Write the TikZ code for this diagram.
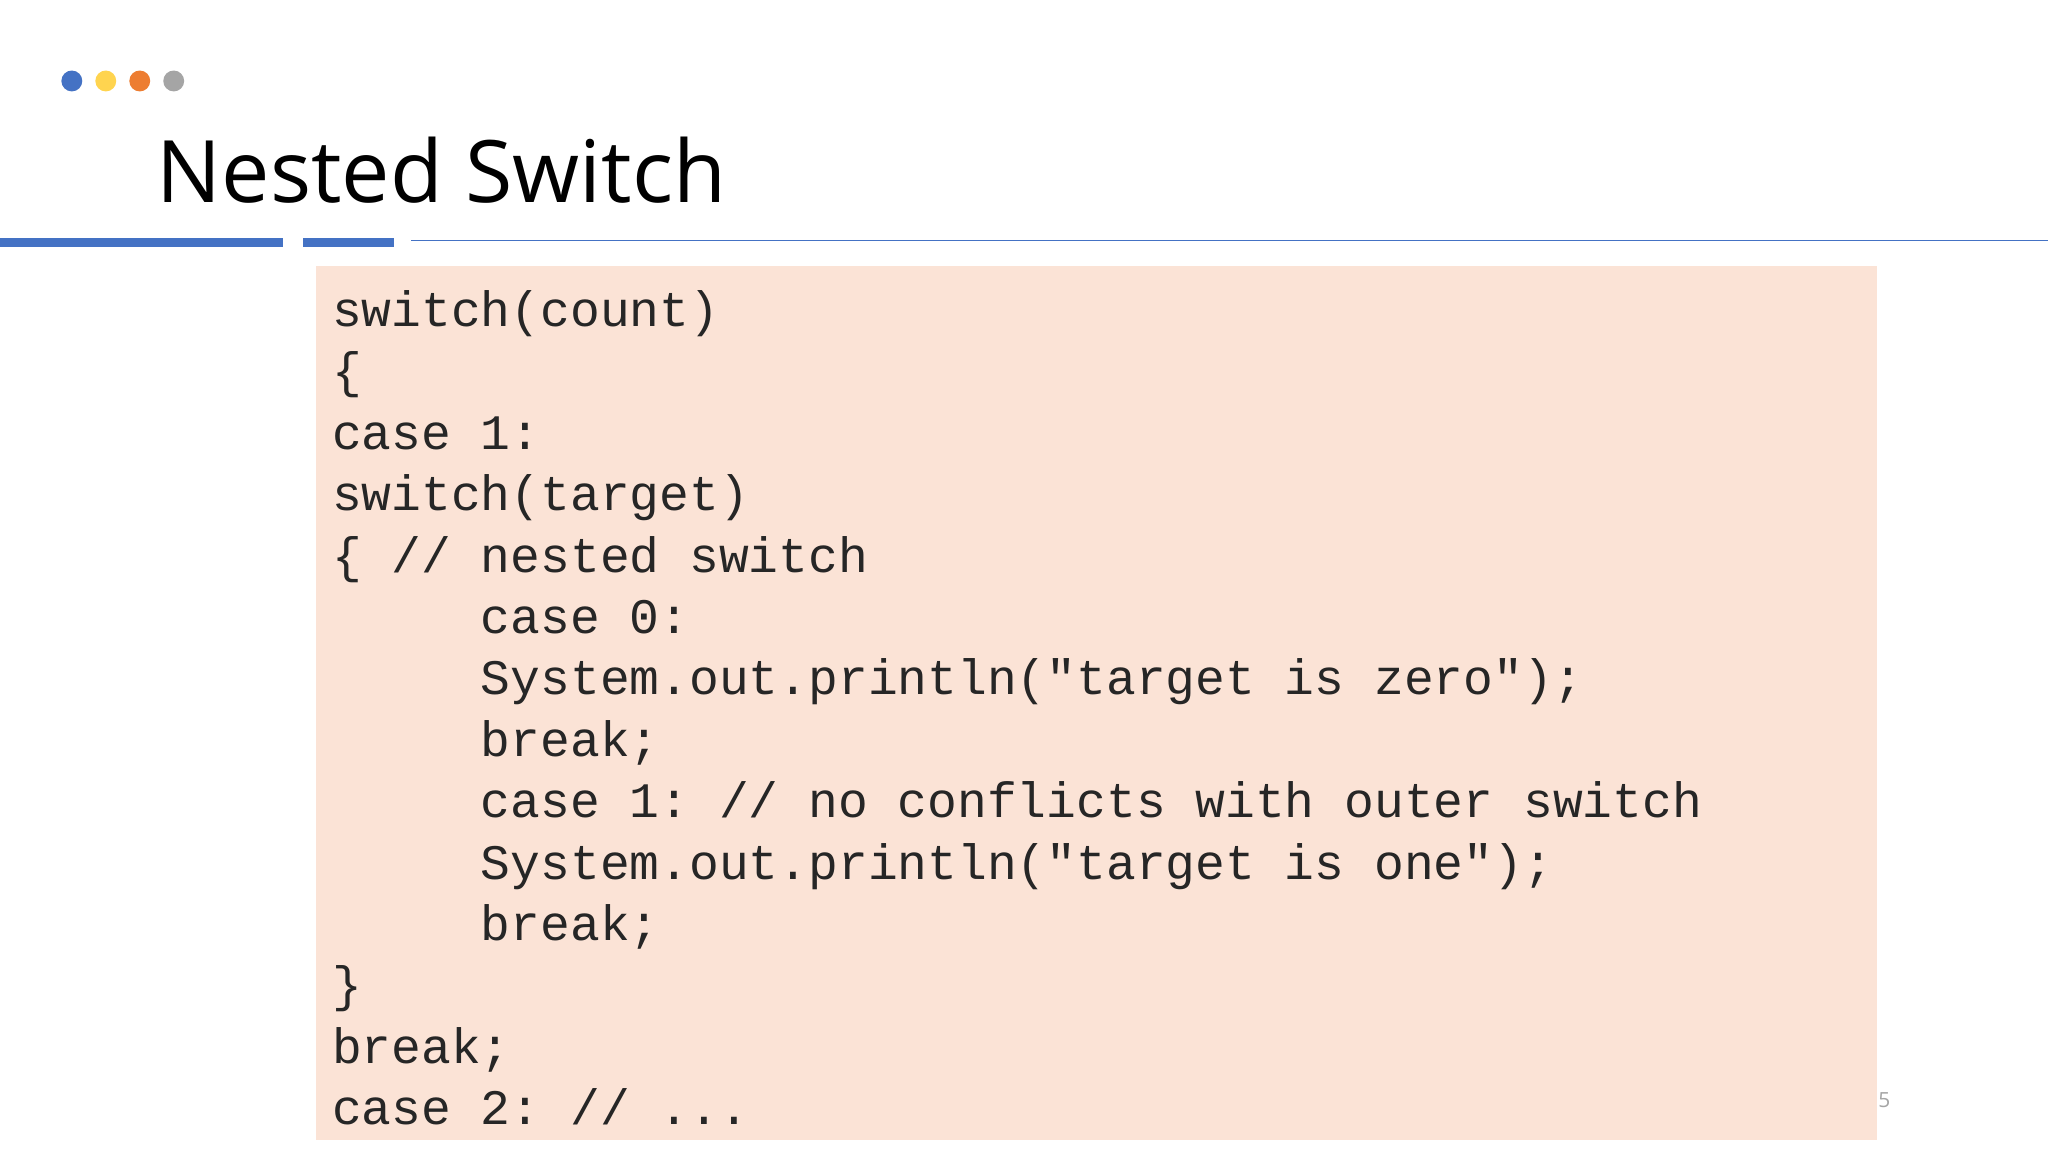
\documentclass[tikz,border=0pt]{standalone}
\usepackage{fontspec}
\setmainfont{Open Sans}
\setmonofont{Liberation Mono}
\definecolor{accent}{HTML}{4472C4}
\definecolor{dyel}{HTML}{FFD44F}
\definecolor{dor}{HTML}{ED7D31}
\definecolor{dgr}{HTML}{A5A5A5}
\definecolor{boxbg}{HTML}{FBE3D6}
\begin{document}
\begin{tikzpicture}[x=1pt,y=-1pt,
  code/.style={anchor=base west,inner sep=0pt,font=\fontsize{38}{38}\selectfont\ttfamily,text=black!85}]
\useasboundingbox (0,0) rectangle (1568,882);
\fill[white] (0,0) rectangle (1568,882);
\fill[accent] (55,62) circle (8);
\fill[dyel] (81,62) circle (8);
\fill[dor] (107,62) circle (8);
\fill[dgr] (133,62) circle (8);
\node[anchor=base west,inner sep=0pt,font=\fontsize{66}{66}\selectfont] (title) at (120,155) {Nested Switch};
\fill[accent] (0,182) rectangle (217,189);
\fill[accent] (232,182) rectangle (302,189);
\draw[accent,line width=1.2] (315,184) -- (1568,184);
\fill[boxbg] (242,204) rectangle (1437,873);
\node[anchor=base west,inner sep=0pt,text=dgr,font=\fontsize{16}{16}\selectfont] (pg) at (1438,848) {5};
\foreach \i/\t in {0/{switch(count)},1/{\{},2/{case 1:},3/{switch(target)},4/{\{ // nested switch},
5/{\ \ \ \ \ case 0:},6/{\ \ \ \ \ System.out.println("target is zero");},7/{\ \ \ \ \ break;},
8/{\ \ \ \ \ case 1: // no conflicts with outer switch},9/{\ \ \ \ \ System.out.println("target is one");},
10/{\ \ \ \ \ break;},11/{\}},12/{break;},13/{case 2: // ...}}
  \node[code] (l\i) at (254,250+47*\i) {\t};
\end{tikzpicture}
\end{document}
